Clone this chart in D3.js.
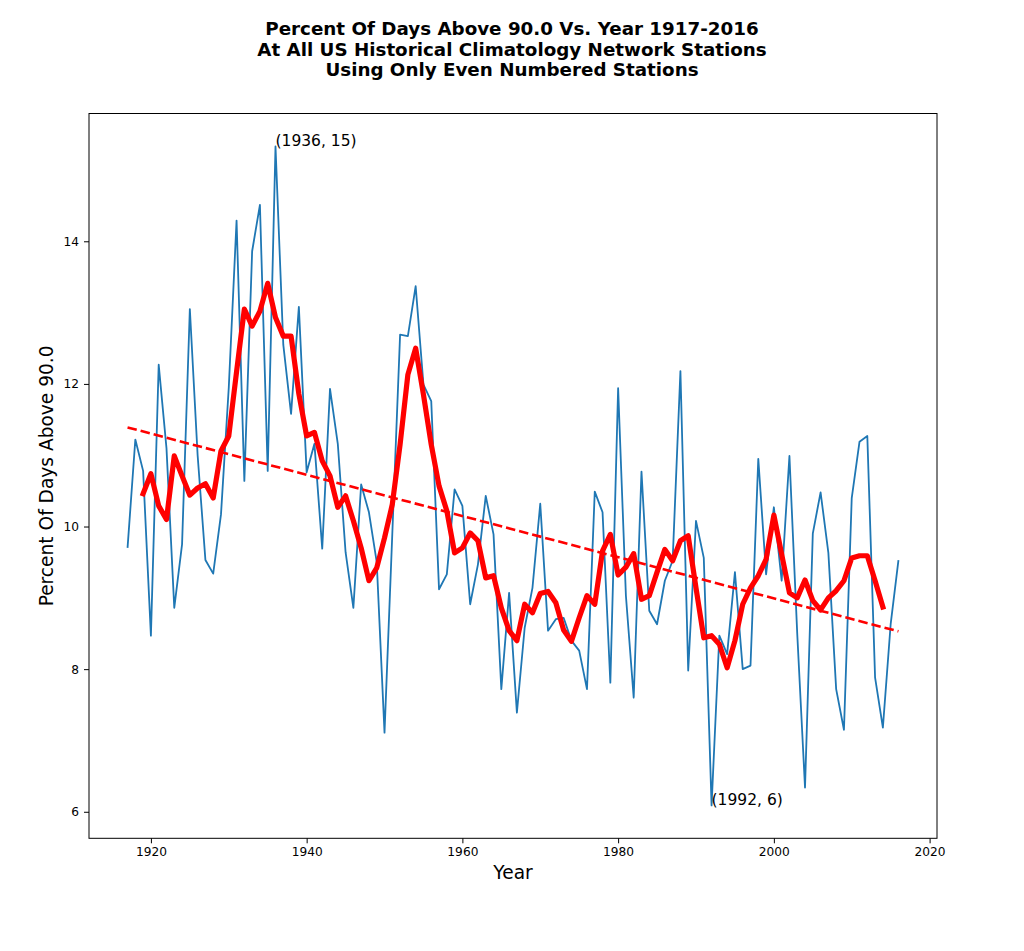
<!DOCTYPE html>
<html>
<head>
<meta charset="utf-8">
<script src="https://cdn.jsdelivr.net/npm/d3@7"></script>
<style>
  body { margin: 0; background: #fff; }
  text { font-family: "DejaVu Sans", sans-serif; fill: #000; }
</style>
</head>
<body>
<svg id="chart" width="1024" height="951"></svg>
<script>
// percent of days above 90F, one value per year 1917-2016
var years = d3.range(1917, 2017);
var pctAbove = [
  9.70, 11.22, 10.78, 8.47, 12.27, 11.10, 8.86, 9.75, 13.05, 11.00,
  9.53, 9.34, 10.17, 11.95, 14.29, 10.64, 13.86, 14.51, 10.78, 15.33,
  12.55, 11.58, 13.08, 10.76, 11.16, 9.69, 11.93, 11.16, 9.64, 8.86,
  10.59, 10.20, 9.50, 7.11, 9.90, 12.69, 12.67, 13.37, 11.99, 11.76,
  9.12, 9.33, 10.52, 10.29, 8.91, 9.47, 10.43, 9.89, 7.72, 9.07,
  7.39, 8.58, 9.14, 10.32, 8.54, 8.70, 8.72, 8.40, 8.26, 7.72,
  10.49, 10.20, 7.81, 11.94, 9.03, 7.60, 10.77, 8.82, 8.63, 9.24,
  9.52, 12.18, 7.98, 10.08, 9.56, 6.09, 8.47, 8.21, 9.36, 8.00,
  8.05, 10.95, 9.33, 10.27, 9.24, 10.99, 8.50, 6.34, 9.90, 10.48,
  9.63, 7.72, 7.15, 10.40, 11.19, 11.27, 7.88, 7.18, 8.63, 9.53
];

// red smoothed line, 1919-2014
var smoothYears = d3.range(1919, 2015);
var smoothVals = [
  10.46, 10.74, 10.29, 10.10, 10.99, 10.71, 10.44, 10.54, 10.60, 10.40,
  11.06, 11.27, 12.17, 13.05, 12.81, 13.02, 13.41, 12.93, 12.67, 12.67,
  11.86, 11.27, 11.32, 10.92, 10.71, 10.27, 10.43, 10.08, 9.70, 9.24,
  9.42, 9.84, 10.31, 11.15, 12.13, 12.50, 11.85, 11.15, 10.57, 10.22,
  9.63, 9.70, 9.91, 9.80, 9.28, 9.31, 8.86, 8.54, 8.40, 8.91,
  8.79, 9.06, 9.09, 8.93, 8.55, 8.39, 8.72, 9.03, 8.91, 9.66,
  9.89, 9.32, 9.43, 9.62, 8.98, 9.03, 9.36, 9.68, 9.52, 9.80,
  9.87, 9.14, 8.44, 8.47, 8.35, 8.02, 8.40, 8.91, 9.14, 9.31,
  9.54, 10.16, 9.61, 9.07, 9.00, 9.25, 8.96, 8.83, 9.00, 9.10,
  9.24, 9.56, 9.59, 9.59, 9.24, 8.87
];

// dashed trend line ends
var trendYears = [1917, 2016];
var trendVals = [11.39, 8.53];

var annotations = [
  {year: 1936, val: 15.33, label: "(1936, 15)"},
  {year: 1992, val: 6.09, label: "(1992, 6)"}
];

var xTicks = [1920, 1940, 1960, 1980, 2000, 2020];
var yTicks = [6, 8, 10, 12, 14];

var titleLines = [
  "Percent Of Days Above 90.0 Vs. Year 1917-2016",
  "At All US Historical Climatology Network Stations",
  "Using Only Even Numbered Stations"
];

var margin = {top: 113.5, right: 87, bottom: 112.7, left: 89},
    W = 1024, H = 951,
    width = W - margin.left - margin.right,
    height = H - margin.top - margin.bottom;

var svg = d3.select("#chart");

// matplotlib style 5% padding on limits
var xpad = (d3.max(years) - d3.min(years)) * 0.05;
var ylo = d3.min(pctAbove), yhi = d3.max(pctAbove);
var ypad = (yhi - ylo) * 0.05;

var x = d3.scaleLinear()
    .domain([d3.min(years) - xpad, d3.max(years) + xpad])
    .range([margin.left, margin.left + width]);
var y = d3.scaleLinear()
    .domain([ylo - ypad, yhi + ypad])
    .range([margin.top + height, margin.top]);

svg.append("rect")
    .attr("width", W)
    .attr("height", H)
    .attr("fill", "#fff");

// title
var title = svg.append("text")
    .attr("text-anchor", "middle")
    .attr("font-weight", "bold")
    .attr("font-size", "18.3px");
titleLines.forEach(function(t, i){
  title.append("tspan")
      .attr("x", 512)
      .attr("y", 35 + i*20.6)
      .text(t);
});

var g = svg.append("g");

// blue yearly line
var line = d3.line()
    .x(function(d){ return x(d[0]); })
    .y(function(d){ return y(d[1]); });

g.append("path")
    .datum(d3.zip(years, pctAbove))
    .attr("fill", "none")
    .attr("stroke", "#1f77b4")
    .attr("stroke-width", 1.8)
    .attr("stroke-linejoin", "round")
    .attr("d", line);

// trend line
g.append("path")
    .datum(d3.zip(trendYears, trendVals))
    .attr("fill", "none")
    .attr("stroke", "red")
    .attr("stroke-width", 2.6)
    .attr("stroke-dasharray", "9.5,4")
    .attr("d", line);

// smoothed red
g.append("path")
    .datum(d3.zip(smoothYears, smoothVals))
    .attr("fill", "none")
    .attr("stroke", "red")
    .attr("stroke-width", 5.2)
    .attr("stroke-linejoin", "round")
    .attr("stroke-linecap", "square")
    .attr("d", line);

// annotations
annotations.forEach(function(a){
  svg.append("text")
      .attr("x", x(a.year))
      .attr("y", y(a.val))
      .attr("font-size", "15.5px")
      .attr("fill", "#000")
      .text(a.label);
});

// axes
var xAxis = svg.append("g")
    .attr("transform", "translate(0," + (margin.top + height) + ")")
    .call(d3.axisBottom(x).tickValues(xTicks).tickFormat(d3.format("d")).tickSizeOuter(0).tickSize(5).tickPadding(4));
var yAxis = svg.append("g")
    .attr("transform", "translate(" + margin.left + ",0)")
    .call(d3.axisLeft(y).tickValues(yTicks).tickFormat(d3.format("d")).tickSizeOuter(0).tickSize(5).tickPadding(5));

[xAxis, yAxis].forEach(function(ax){
  ax.select(".domain").remove();
  ax.selectAll("text")
      .attr("font-family", "DejaVu Sans, sans-serif")
      .attr("font-size", "12.2px")
      .attr("fill", "#000");
  ax.selectAll("line").attr("stroke", "#000").attr("stroke-width", 1);
});

// frame
svg.append("rect")
    .attr("x", margin.left)
    .attr("y", margin.top)
    .attr("width", width)
    .attr("height", height)
    .attr("fill", "none")
    .attr("stroke", "#000")
    .attr("stroke-width", 1);

// axis labels
svg.append("text")
    .attr("text-anchor", "middle")
    .attr("x", margin.left + width/2)
    .attr("y", 879)
    .attr("font-size", "18.6px")
    .text("Year");

svg.append("text")
    .attr("text-anchor", "middle")
    .attr("transform", "translate(53," + (margin.top + height/2) + ") rotate(-90)")
    .attr("font-size", "18.6px")
    .text("Percent Of Days Above 90.0");
</script>
</body>
</html>
